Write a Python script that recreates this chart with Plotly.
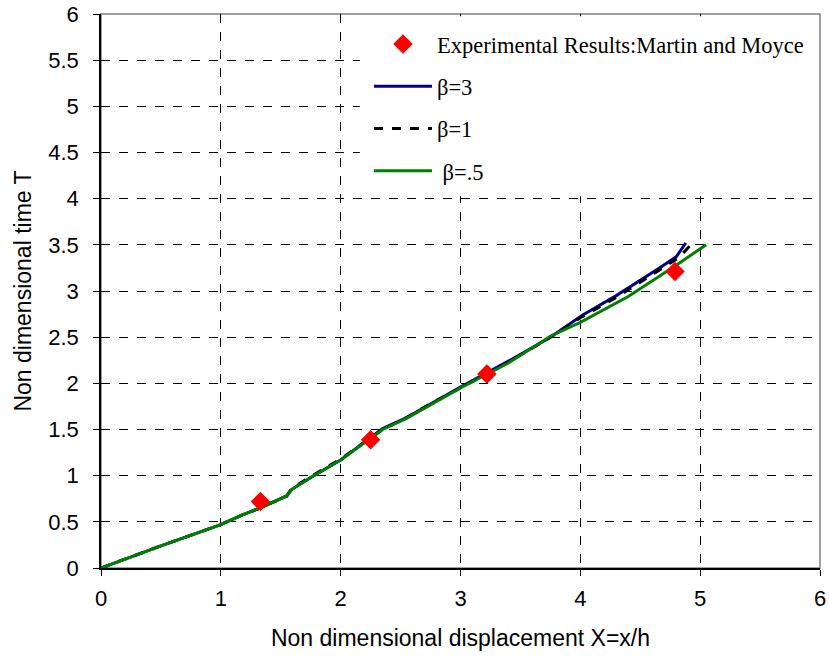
import plotly.graph_objects as go

# Experimental data (Martin and Moyce)
exp_x = [1.33, 2.25, 3.22, 4.79]
exp_t = [0.72, 1.39, 2.10, 3.21]

# Numerical solution, beta = 0.5
b05_x = [0, 0.5, 1.0, 1.17, 1.33, 1.55, 1.59, 1.75, 2.0, 2.35, 2.55, 2.75, 3.0, 3.4, 3.75, 4.0, 4.4, 4.8, 5.05]
b05_t = [0, 0.24, 0.47, 0.57, 0.65, 0.78, 0.85, 0.98, 1.17, 1.50, 1.62, 1.77, 1.95, 2.22, 2.51, 2.66, 2.94, 3.28, 3.50]

# Numerical solution, beta = 1
b1_x = [0, 0.5, 1.0, 1.17, 1.33, 1.55, 1.59, 1.75, 2.0, 2.35, 2.55, 2.75, 3.0, 3.4, 3.74, 4.0, 4.3, 4.66, 4.82, 4.93]
b1_t = [0, 0.24, 0.47, 0.57, 0.65, 0.78, 0.86, 0.99, 1.18, 1.50, 1.63, 1.78, 1.95, 2.23, 2.49, 2.71, 2.93, 3.23, 3.36, 3.51]

# Numerical solution, beta = 3
b3_x = [0, 0.5, 1.0, 1.17, 1.33, 1.55, 1.59, 1.75, 2.0, 2.35, 2.55, 2.75, 3.0, 3.4, 3.74, 4.02, 4.3, 4.66, 4.80, 4.88]
b3_t = [0, 0.24, 0.47, 0.57, 0.65, 0.78, 0.85, 0.98, 1.17, 1.51, 1.63, 1.78, 1.96, 2.24, 2.49, 2.74, 2.95, 3.25, 3.37, 3.52]

x_ticks = [0, 1, 2, 3, 4, 5, 6]
y_ticks = [0, 0.5, 1, 1.5, 2, 2.5, 3, 3.5, 4, 4.5, 5, 5.5, 6]

fig = go.Figure()

# curves first so the experimental points sit on top
fig.add_trace(go.Scatter(
    x=b3_x, y=b3_t, mode="lines", name="β=3",
    line=dict(color="#00008b", width=3), legendgroup="b", legendrank=2))
fig.add_trace(go.Scatter(
    x=b1_x, y=b1_t, mode="lines", name="β=1",
    line=dict(color="#000000", width=3, dash="dash"), legendgroup="c", legendrank=3))
fig.add_trace(go.Scatter(
    x=b05_x, y=b05_t, mode="lines", name=" β=.5",
    line=dict(color="#008000", width=3), legendgroup="d", legendrank=4))
fig.add_trace(go.Scatter(
    x=exp_x, y=exp_t, mode="markers", name="Experimental Results:Martin and Moyce",
    marker=dict(symbol="diamond", size=15, color="#ff0000"), legendgroup="a", legendrank=1))

axis_common = dict(
    showgrid=True, gridcolor="#000000", gridwidth=1, griddash="dash",
    zeroline=False, showline=True, linecolor="#000000", linewidth=1.5,
    ticks="outside", ticklen=6, tickcolor="#000000", automargin=False,
)

fig.update_xaxes(
    range=[0, 6], tickvals=x_ticks, ticktext=[str(v) for v in x_ticks],
    tickfont=dict(family="Liberation Sans, Arial", size=22, color="#000000"),
    ticklabelstandoff=4,
    title=dict(text="Non dimensional displacement X=x/h",
               font=dict(family="Liberation Sans, Arial", size=23, color="#000000"),
               standoff=20),
    **axis_common)
fig.update_yaxes(
    range=[0, 6], tickvals=y_ticks, ticktext=[f"{v:g}" for v in y_ticks],
    tickfont=dict(family="Liberation Sans, Arial", size=22, color="#000000"),
    ticklabelstandoff=10,
    title=dict(text="Non dimensional time T",
               font=dict(family="Liberation Sans, Arial", size=23, color="#000000"),
               standoff=10),
    **axis_common)

# light frame on the top and right of the plot area
fig.add_shape(type="rect", xref="paper", yref="paper", x0=0, y0=0, x1=1, y1=1,
              line=dict(color="#808080", width=1.5), layer="below")
# opaque white panel behind the legend
fig.add_shape(type="rect", xref="paper", yref="paper", x0=0.36, y0=0.671, x1=0.996, y1=0.996,
              line=dict(width=0), fillcolor="#ffffff", layer="above")

fig.update_layout(
    width=829, height=658,
    margin=dict(l=101, r=9, t=14, b=90, autoexpand=False),
    plot_bgcolor="#ffffff", paper_bgcolor="#ffffff",
    legend=dict(
        x=0.3727, y=0.984, xanchor="left", yanchor="top",
        bgcolor="rgba(0,0,0,0)", borderwidth=0,
        font=dict(family="Liberation Serif, Times New Roman", size=22.5, color="#000000"),
        traceorder="grouped", tracegroupgap=10, itemwidth=58,
    ),
    showlegend=True,
)

fig.write_html("out.html")
